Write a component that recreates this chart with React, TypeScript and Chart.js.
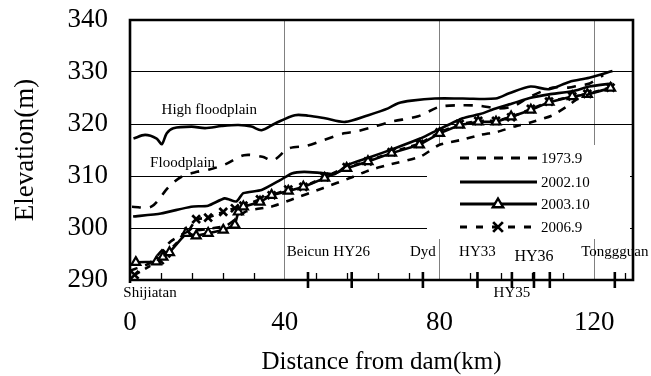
import React, { useEffect, useRef } from 'react';
import { Chart, registerables } from 'chart.js';
Chart.register(...registerables);

const FONT = "'Liberation Serif', 'Times New Roman', Times, serif";

// ---------- data ----------
const xTickValues = [0, 40, 80, 120];
const yTickValues = [290, 300, 310, 320, 330, 340];
const minorTickKm = [8, 16, 24, 32, 48, 56, 64, 72, 88, 96, 104, 112, 128];

const highFloodKm = [0.9, 3.9, 6.9, 8.2, 9.5, 11.2, 15.9, 19.4, 23.7, 28, 31.4, 34, 37.5, 42.6, 46.1, 50.4, 55.6, 61.6, 66.7, 69.3, 72.8, 78.8, 86, 94.5, 98, 103.5, 108.3, 113.5, 118.7, 124.7];
const highFloodElev = [317.2, 317.9, 317.2, 316.1, 318.2, 319.2, 319.5, 319.2, 319.6, 319.8, 319.5, 318.8, 320.1, 321.7, 321.6, 321.1, 320.4, 321.7, 323.0, 324.0, 324.5, 324.9, 324.9, 324.9, 325.9, 327.2, 326.7, 328.1, 328.9, 330.2];

const floodKm = [0.5, 5.5, 10, 13.4, 17.3, 20.3, 24.5, 29.5, 34.2, 37, 41, 45.7, 50, 55.3, 58, 61.8, 67.3, 74.5, 80, 85.5, 90.5, 95, 99, 103.5, 109.3, 113.3, 116, 118.8, 122.3];
const floodElev = [304.1, 304.1, 307.9, 309.9, 310.8, 311.2, 312.2, 314.0, 313.7, 313.0, 315.3, 315.8, 316.9, 318.2, 318.5, 319.2, 320.4, 321.5, 323.3, 323.6, 323.5, 323.0, 323.4, 325.3, 327.0, 327.0, 327.4, 327.8, 329.4];

const km1973 = [0, 5, 10.5, 15, 20, 25, 30, 36.5, 41.5, 50, 56.8, 61.8, 66.5, 75, 80, 86, 90.5, 95, 99.3, 103.5, 109, 112.8, 116, 119];
const elev1973 = [291.8, 293.2, 297.4, 299.3, 299.8, 300.5, 303.2, 304.1, 305.4, 307.7, 309.6, 311.1, 312.1, 313.7, 316.0, 317.0, 317.9, 318.5, 319.5, 320.3, 321.6, 323.3, 325.0, 325.8];

const km2002 = [0.8, 8, 15.8, 20.2, 24.5, 27.5, 29.3, 34, 38.8, 41.8, 45, 49.3, 53, 56.2, 62, 68, 75, 78, 86, 90.5, 94.5, 99, 103.3, 108.3, 114.3, 118.7, 124.7];
const elev2002 = [302.2, 302.8, 304.1, 304.3, 305.7, 305.1, 306.7, 307.3, 309.2, 310.5, 310.8, 310.6, 310.4, 312.1, 313.6, 315.2, 317.2, 318.3, 321.1, 321.9, 323.0, 324.0, 325.0, 325.7, 326.3, 327.2, 327.8];

const km2003 = [1.5, 6.8, 8.5, 10.2, 14.5, 17.1, 20.2, 24.1, 27.1, 28, 29.3, 33.6, 36.6, 40.9, 44.8, 50.3, 56, 61.5, 67.6, 74.8, 80, 85.2, 90, 94.6, 98.5, 103.6, 108.3, 114.3, 118.2, 124.2];
const elev2003 = [293.4, 293.5, 294.4, 295.3, 299.0, 298.5, 299.0, 299.6, 300.6, 303.1, 304.1, 305.0, 306.3, 307.1, 307.9, 309.6, 311.5, 312.8, 314.4, 316.0, 318.2, 319.8, 320.4, 320.4, 321.4, 322.7, 324.2, 325.3, 325.7, 326.9];

const km2006 = [1.2, 7.7, 9.4, 15, 17.1, 20.2, 24.1, 27.1, 29.3, 33.6, 36.6, 40.9, 44.8, 50.3, 56, 61.5, 67.6, 74.8, 80, 85.2, 90, 94.6, 98.5, 103.6, 108.3, 114.3, 118.2, 124.2];
const elev2006 = [291.0, 293.8, 295.1, 299.3, 301.7, 302.0, 303.1, 303.8, 304.3, 305.5, 306.3, 307.4, 307.9, 309.8, 311.7, 312.8, 314.6, 316.2, 318.4, 320.0, 320.6, 320.6, 321.3, 322.9, 324.3, 325.3, 325.8, 327.0];

const stationNames = ['Shijiatan', 'Beicun', 'HY26', 'Dyd', 'HY33', 'HY35', 'HY36', '', 'Tonggguan'];
const stationKm = [0, 46, 57.3, 75.7, 89.8, 98.7, 104.4, 108.5, 125.3];

const annotationTexts = ['High floodplain', 'Floodplain'];
const annotationKm = [20.5, 13.6];
const annotationElev = [322.7, 312.5];

const seriesLabels = ['1973.9', '2002.10', '2003.10', '2006.9'];

// ---------- layout / style (not data) ----------
const labelStyle: Record<string, { dx: number; dy: number; size: number }> = {
  Shijiatan: { dx: 20, dy: 13, size: 15 },
  HY35: { dx: 0, dy: 13, size: 15 },
  HY36: { dx: 0, dy: -23, size: 16 },
};

const pts = (xs: number[], ys: number[]) => xs.map((x, i) => ({ x, y: ys[i] }));

function drawTriangle(ctx: CanvasRenderingContext2D, x: number, y: number, r: number) {
  ctx.beginPath();
  ctx.moveTo(x, y - r);
  ctx.lineTo(x + r * 0.95, y + r * 0.6);
  ctx.lineTo(x - r * 0.95, y + r * 0.6);
  ctx.closePath();
  ctx.fillStyle = '#fff';
  ctx.fill();
  ctx.stroke();
}
function drawCross(ctx: CanvasRenderingContext2D, x: number, y: number, r: number) {
  const d = r * 0.75;
  ctx.beginPath();
  ctx.moveTo(x - d, y - d);
  ctx.lineTo(x + d, y + d);
  ctx.moveTo(x + d, y - d);
  ctx.lineTo(x - d, y + d);
  ctx.stroke();
}

const decorPlugin = {
  id: 'decor',
  beforeDatasetsDraw(chart: any) {
    const ctx: CanvasRenderingContext2D = chart.ctx;
    const a = chart.chartArea;
    const bx = a.left + 297, by = a.top + 125, bw = 203, bh = 94;
    ctx.save();
    ctx.fillStyle = '#fff';
    ctx.fillRect(bx, by, bw, bh);
    const rows = [13, 37, 59, 82];
    const x0 = bx + 33, x1 = bx + 110, mx = bx + 71;
    seriesLabels.forEach((lab, i) => {
      const y = by + rows[i];
      ctx.strokeStyle = '#000';
      ctx.lineWidth = 2.8;
      ctx.setLineDash(i === 0 ? [9, 8] : i === 3 ? [7, 9] : []);
      ctx.beginPath();
      ctx.moveTo(x0, y);
      ctx.lineTo(x1, y);
      ctx.stroke();
      ctx.setLineDash([]);
      ctx.lineWidth = 2.4;
      if (i === 2) drawTriangle(ctx, mx, y, 5.5);
      if (i === 3) { ctx.lineWidth = 2.8; drawCross(ctx, mx, y, 6.5); }
      ctx.fillStyle = '#000';
      ctx.font = `15px ${FONT}`;
      ctx.textAlign = 'left';
      ctx.textBaseline = 'middle';
      ctx.fillText(lab, x1 + 4, y + 1);
    });
    ctx.restore();
  },
  afterDatasetsDraw(chart: any) {
    const ctx: CanvasRenderingContext2D = chart.ctx;
    const a = chart.chartArea;
    const xs = chart.scales.x;
    const ys = chart.scales.y;
    ctx.save();
    ctx.strokeStyle = '#000';
    ctx.setLineDash([]);
    ctx.lineWidth = 1.3;
    minorTickKm.forEach((k) => {
      const px = Math.round(xs.getPixelForValue(k)) + 0.5;
      ctx.beginPath();
      ctx.moveTo(px, a.bottom);
      ctx.lineTo(px, a.bottom - 7);
      ctx.stroke();
    });
    ctx.lineWidth = 2.6;
    stationKm.forEach((k) => {
      if (k <= 0) return;
      const px = xs.getPixelForValue(k);
      ctx.beginPath();
      ctx.moveTo(px, a.bottom - 8);
      ctx.lineTo(px, a.bottom + 8);
      ctx.stroke();
    });
    ctx.lineWidth = 2.6;
    ctx.beginPath();
    ctx.moveTo(a.left, a.bottom + 3);
    ctx.lineTo(a.left, a.top);
    ctx.lineTo(a.right, a.top);
    ctx.lineTo(a.right, a.bottom);
    ctx.lineTo(a.left - 1, a.bottom);
    ctx.stroke();
    ctx.fillStyle = '#000';
    ctx.textAlign = 'center';
    ctx.textBaseline = 'middle';
    stationNames.forEach((name, i) => {
      if (!name) return;
      const st = labelStyle[name] || { dx: 0, dy: -28, size: 15 };
      ctx.font = `${st.size}px ${FONT}`;
      ctx.fillText(name, xs.getPixelForValue(stationKm[i]) + st.dx, a.bottom + st.dy);
    });
    ctx.font = `15px ${FONT}`;
    annotationTexts.forEach((t, i) => {
      ctx.fillText(t, xs.getPixelForValue(annotationKm[i]), ys.getPixelForValue(annotationElev[i]));
    });
    ctx.restore();
  },
};

export default function App() {
  const ref = useRef<HTMLCanvasElement>(null);
  useEffect(() => {
    if (!ref.current) return;
    const lw = 2.6;
    const chart = new Chart(ref.current, {
      type: 'line',
      data: {
        datasets: [
          { label: 'High floodplain', data: pts(highFloodKm, highFloodElev), borderColor: '#000', borderWidth: lw, pointRadius: 0, tension: 0.3 },
          { label: 'Floodplain', data: pts(floodKm, floodElev), borderColor: '#000', borderWidth: lw, borderDash: [9, 9], pointRadius: 0, tension: 0.3 },
          { label: seriesLabels[0], data: pts(km1973, elev1973), borderColor: '#000', borderWidth: lw, borderDash: [8, 8], pointRadius: 0, tension: 0.2 },
          { label: seriesLabels[1], data: pts(km2002, elev2002), borderColor: '#000', borderWidth: lw, pointRadius: 0, tension: 0.2 },
          { label: seriesLabels[2], data: pts(km2003, elev2003), borderColor: '#000', borderWidth: lw, pointStyle: 'triangle', pointRadius: 5.2, pointBackgroundColor: '#fff', pointBorderColor: '#000', pointBorderWidth: 2.2, tension: 0 },
          { label: seriesLabels[3], data: pts(km2006, elev2006), borderColor: '#000', borderWidth: lw, borderDash: [6, 6], pointStyle: 'crossRot', pointRadius: 5.5, pointBorderColor: '#000', pointBorderWidth: 2.7, tension: 0 },
        ],
      },
      options: {
        animation: false,
        responsive: false,
        devicePixelRatio: 1,
        layout: { padding: { left: 0, top: 20, right: 18, bottom: 0 } },
        plugins: { legend: { display: false }, tooltip: { enabled: false } },
        scales: {
          x: {
            type: 'linear',
            min: 0,
            max: 130,
            afterFit: (s: any) => { s.height = 96; s.paddingLeft = 0; s.paddingRight = 0; s.paddingTop = 0; s.paddingBottom = 0; },
            afterBuildTicks: (s: any) => { s.ticks = xTickValues.map((v) => ({ value: v })); },
            border: { display: false },
            grid: {
              drawTicks: false,
              lineWidth: 1,
              color: (c: any) => (c.tick && c.tick.value > 0 ? '#808080' : 'rgba(0,0,0,0)'),
            },
            ticks: { maxRotation: 0, autoSkip: false, padding: 29, color: '#000', font: { family: FONT, size: 27, lineHeight: 1 } },
            title: { display: true, text: 'Distance from dam(km)', color: '#000', font: { family: FONT, size: 25, lineHeight: 1 }, padding: { top: 0, bottom: 1.5 } },
          },
          y: {
            type: 'linear',
            min: 290,
            max: 340,
            afterFit: (s: any) => { s.width = 130; s.paddingTop = 0; s.paddingBottom = 0; s.paddingLeft = 0; s.paddingRight = 0; },
            afterBuildTicks: (s: any) => { s.ticks = yTickValues.map((v) => ({ value: v })); },
            border: { display: false },
            grid: {
              drawTicks: false,
              lineWidth: 1,
              color: (c: any) => (c.tick && c.tick.value > 290 && c.tick.value < 340 ? '#000' : 'rgba(0,0,0,0)'),
            },
            ticks: { padding: 22, color: '#000', font: { family: FONT, size: 27, lineHeight: 1 } },
            title: { display: true, text: 'Elevation(m)', color: '#000', font: { family: FONT, size: 27, lineHeight: 1 }, padding: { top: 12, bottom: 0 } },
          },
        },
      },
      plugins: [decorPlugin],
    } as any);
    return () => chart.destroy();
  }, []);
  return (
    <div style={{ position: 'absolute', left: 0, top: 0, width: 651, height: 376, background: '#fff' }}>
      <canvas ref={ref} width={651} height={376} style={{ width: 651, height: 376, display: 'block' }} />
    </div>
  );
}
